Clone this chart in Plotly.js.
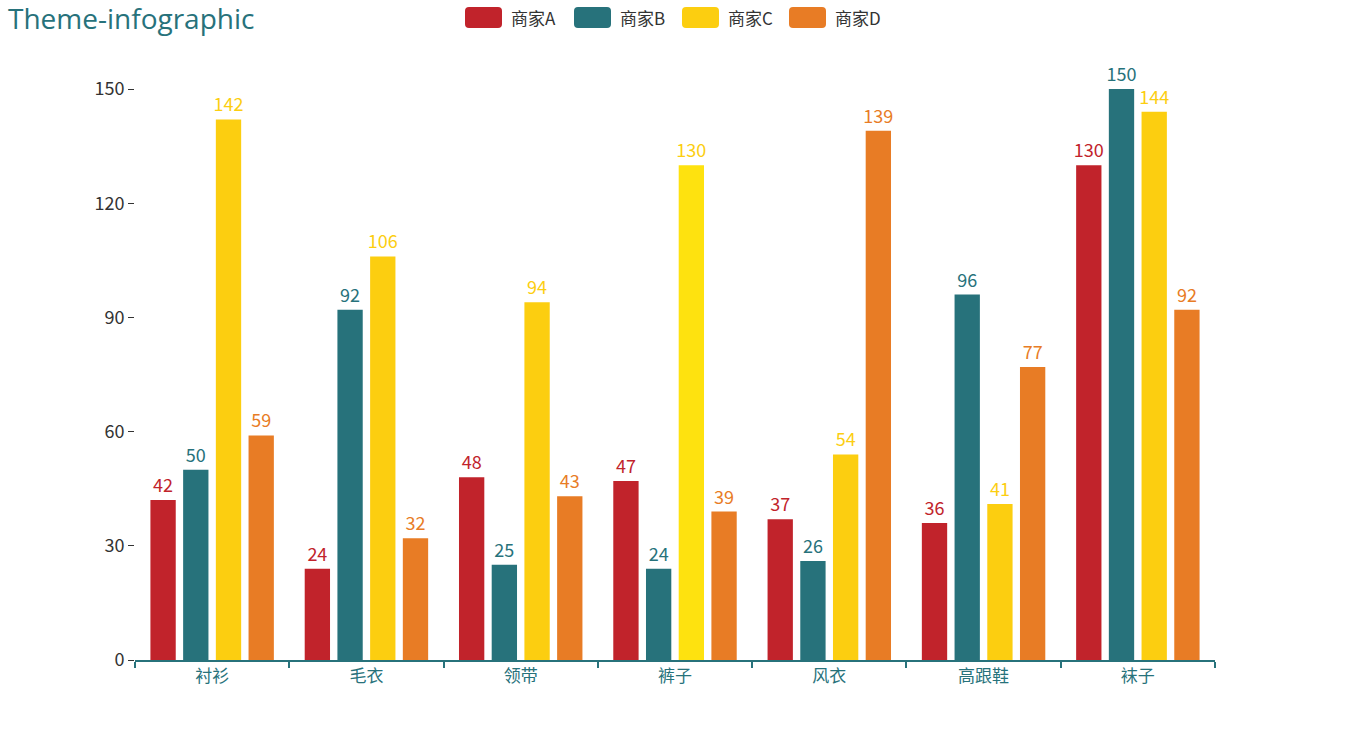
<!DOCTYPE html>
<html>
<head>
<meta charset="utf-8">
<script src="https://cdn.plot.ly/plotly-3.0.1.min.js"></script>
<style>html,body{margin:0;padding:0;background:#fff;}#chart{width:1350px;height:750px;}</style>
</head>
<body>
<div id="chart"></div>
<script>
const categories = ['衬衫', '毛衣', '领带', '裤子', '风衣', '高跟鞋', '袜子'];
const seriesNames = ['商家A', '商家B', '商家C', '商家D'];
const valuesA = [42, 24, 48, 47, 37, 36, 130];
const valuesB = [50, 92, 25, 24, 26, 96, 150];
const valuesC = [142, 106, 94, 130, 54, 41, 144];
const valuesD = [59, 32, 43, 39, 139, 77, 92];
const yTicks = [0, 30, 60, 90, 120, 150];

const colors = ['#c1232b', '#27727b', '#fcce10', '#e87c25'];
const highlight = {series: 2, index: 3, color: '#fee20f'};
const allValues = [valuesA, valuesB, valuesC, valuesD];
const FONT = '"Noto Sans CJK SC", "Open Sans", sans-serif';

const traces = allValues.map((vals, s) => {
  const mc = vals.map((v, i) => (highlight.series === s && highlight.index === i) ? highlight.color : colors[s]);
  return {
    type: 'bar',
    name: seriesNames[s],
    x: categories,
    y: vals,
    marker: {color: mc, line: {width: 0}},
    text: vals.map(String),
    textposition: 'outside',
    cliponaxis: false,
    textfont: {color: colors[s], size: 18, family: FONT},
    hoverinfo: 'x+y+name',
    showlegend: false
  };
});

// custom rounded-rect legend
const legendX = [465, 574, 682, 789];
const shapes = [];
const annotations = [];
const W = 1350, H = 750;
seriesNames.forEach((n, s) => {
  const x0 = legendX[s], x1 = x0 + 37, y0 = 7, y1 = 28;
  shapes.push({type: 'path', xref: 'paper', yref: 'paper', path: '', _px: [x0, y0, x1, y1], fillcolor: colors[s], line: {width: 0}});
  annotations.push({xref: 'paper', yref: 'paper', _px: [x1 + 7, 17.5], text: n, showarrow: false, xanchor: 'left', yanchor: 'middle', font: {size: 17, color: '#333', family: FONT}});
});
annotations.push({xref: 'paper', yref: 'paper', _px: [6, 18], text: 'Theme-infographic', showarrow: false, xanchor: 'left', yanchor: 'middle', font: {size: 28, color: '#27727b', family: '"Open Sans", sans-serif'}});

const margin = {l: 135, r: 135, t: 89, b: 90, pad: 0};
const pw = W - margin.l - margin.r, ph = H - margin.t - margin.b;
const px2x = x => (x - margin.l) / pw;
const px2y = y => (H - margin.b - y) / ph;
shapes.forEach(sh => {
  const [x0, y0, x1, y1] = sh._px;
  const r = 4;
  const X0 = px2x(x0), X1 = px2x(x1), Y0 = px2y(y0), Y1 = px2y(y1);
  const rx = r / pw, ry = r / ph;
  sh.path = `M${X0+rx},${Y0} L${X1-rx},${Y0} Q${X1},${Y0} ${X1},${Y0-ry} L${X1},${Y1+ry} Q${X1},${Y1} ${X1-rx},${Y1} L${X0+rx},${Y1} Q${X0},${Y1} ${X0},${Y1+ry} L${X0},${Y0-ry} Q${X0},${Y0} ${X0+rx},${Y0} Z`;
  delete sh._px;
});
annotations.forEach(a => {
  a.x = px2x(a._px[0]);
  a.y = px2y(a._px[1]);
  delete a._px;
});

const layout = {
  width: W, height: H,
  margin: margin,
  paper_bgcolor: '#fff', plot_bgcolor: '#fff',
  barmode: 'group',
  bargap: 0.152,
  bargroupgap: 0.226,
  uniformtext: {minsize: 18, mode: 'show'},
  font: {family: FONT, color: '#333'},
  xaxis: {
    type: 'category',
    showgrid: false,
    showline: true, linecolor: '#27727b', linewidth: 2,
    ticks: 'outside', tickson: 'boundaries', ticklen: 6, tickcolor: '#27727b', tickwidth: 2,
    tickfont: {size: 17, color: '#27727b', family: FONT},
    zeroline: false,
    fixedrange: true
  },
  yaxis: {
    range: [0, 150],
    tickvals: yTicks,
    ticktext: yTicks.map(String),
    showgrid: false,
    showline: false,
    zeroline: false,
    ticks: 'outside', ticklen: 6, tickcolor: '#333', tickwidth: 1,
    tickfont: {size: 18, color: '#333', family: FONT},
    fixedrange: true
  },
  shapes: shapes,
  annotations: annotations,
  showlegend: false
};

Plotly.newPlot('chart', traces, layout, {displayModeBar: false});
</script>
</body>
</html>
